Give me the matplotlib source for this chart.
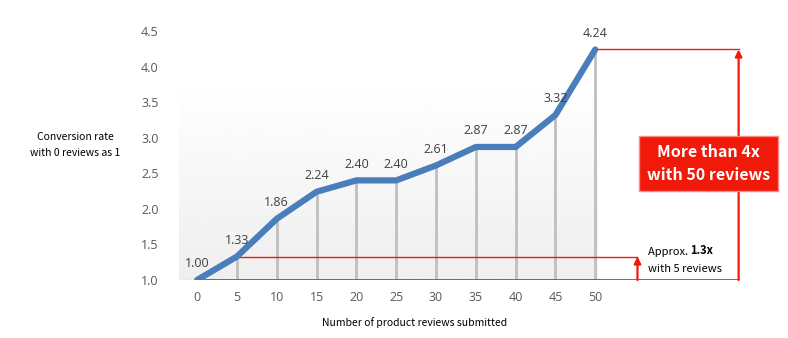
import numpy as np
import matplotlib.pyplot as plt

# data
reviews = [0, 5, 10, 15, 20, 25, 30, 35, 40, 45, 50]
rate = [1.00, 1.33, 1.86, 2.24, 2.40, 2.40, 2.61, 2.87, 2.87, 3.32, 4.24]
yticks = [1.0, 1.5, 2.0, 2.5, 3.0, 3.5, 4.0, 4.5]

RED = "#f0190a"
BLUE = "#4a7ebb"
TICK_FONT = ["Open Sans", "DejaVu Sans"]
LABEL_FONT = ["Noto Sans CJK JP", "DejaVu Sans"]

fig = plt.figure(figsize=(7.88, 3.38), dpi=100)
ax = fig.add_axes([178 / 788, 1 - 280 / 338, 610 / 788, 249 / 338])
ax.set_xlim(-2.4, 74.2)
ax.set_ylim(1.0, 4.5)
for s in ax.spines.values():
    s.set_visible(False)

# light gradient background behind the series
grad = np.linspace(0.935, 1.0, 200).reshape(-1, 1)
ax.imshow(grad, cmap="gray", vmin=0, vmax=1, aspect="auto", origin="lower",
          extent=(-2.3, 50.3, 1.0, 3.85), zorder=0)
ax.plot([-2.4, 50.5], [1.0, 1.0], color="#d9d9d9", lw=1, zorder=1)

# drop lines
ax.vlines(reviews[1:], 1.0, rate[1:], color="#bfbfbf", lw=2, zorder=2)

# red reference lines and arrows
x5, x50 = 55.3, 68.0
ax.plot([0, x50], [1.0, 1.0], color=RED, lw=1.2, zorder=3)
ax.plot([reviews[1], x5], [rate[1], rate[1]], color=RED, lw=1, zorder=3)
ax.plot([reviews[-1], x50], [rate[-1], rate[-1]], color=RED, lw=1, zorder=3)
ax.annotate("", xy=(x5, rate[1]), xytext=(x5, 1.0),
            arrowprops=dict(arrowstyle="-|>", color=RED, lw=1.6, mutation_scale=10,
                            shrinkA=0, shrinkB=0), zorder=3)
ax.annotate("", xy=(x50, rate[-1]), xytext=(x50, 1.0),
            arrowprops=dict(arrowstyle="-|>", color=RED, lw=1.6, mutation_scale=10,
                            shrinkA=0, shrinkB=0), zorder=3)

# main line
ax.plot(reviews, rate, color=BLUE, lw=4.5, solid_capstyle="round",
        solid_joinstyle="round", zorder=4)
for x, y in zip(reviews, rate):
    ax.annotate(f"{y:.2f}", (x, y), xytext=(0, 7), textcoords="offset points",
                ha="center", va="bottom", fontsize=9, color="#404040",
                family=TICK_FONT, zorder=5)

# big red callout
ax.text(64.2, 2.64, "More than 4x\nwith 50 reviews", ha="center", va="center",
        fontsize=11.5, fontweight="bold", color="white", family=LABEL_FONT,
        linespacing=1.55, zorder=6,
        bbox=dict(boxstyle="square,pad=0.5", fc=RED, ec="#f88", lw=1))

# small annotation with bold part
t1 = ax.text(56.6, 1.33, "Approx. ", ha="left", va="bottom", fontsize=8,
             family=LABEL_FONT, zorder=6)
ax.annotate("1.3x", xy=(1, 0), xycoords=t1, ha="left", va="bottom", fontsize=8,
            fontweight="bold", family=LABEL_FONT, zorder=6)
ax.text(56.6, 1.08, "with 5 reviews", ha="left", va="bottom", fontsize=8,
        family=LABEL_FONT, zorder=6)

# ticks
ax.set_xticks(reviews)
ax.set_xticklabels([str(r) for r in reviews], family=TICK_FONT)
ax.set_yticks(yticks)
ax.set_yticklabels([f"{t:.1f}" for t in yticks], family=TICK_FONT)
ax.tick_params(length=0, labelsize=9, colors="#595959", pad=8)
ax.tick_params(axis="y", pad=14)

fig.text(75 / 788, 1 - 145 / 338, "Conversion rate\nwith 0 reviews as 1", ha="center",
         va="center", fontsize=7.5, family=LABEL_FONT, linespacing=1.7)
fig.text(415 / 788, 1 - 323 / 338, "Number of product reviews submitted", ha="center",
         va="center", fontsize=7.5, family=LABEL_FONT)

fig.savefig("out.png", dpi=100)
